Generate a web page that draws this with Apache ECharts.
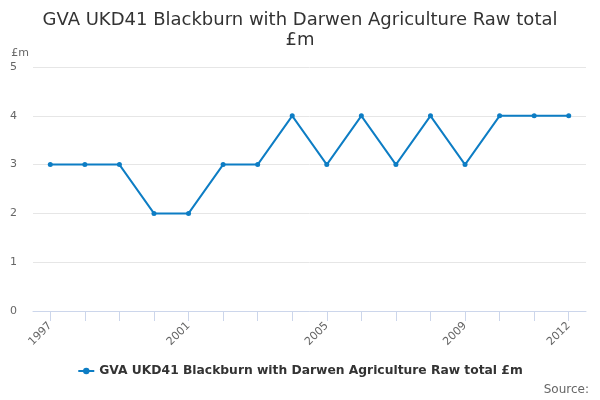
<!DOCTYPE html>
<html><head><meta charset="utf-8">
<script src="https://cdn.jsdelivr.net/npm/echarts@6/dist/echarts.min.js"></script>
<style>html,body{margin:0;padding:0;background:#fff}#c{width:600px;height:400px}</style>
</head><body><div id="c"></div>
<script>
var years = ['1997','1998','1999','2000','2001','2002','2003','2004','2005','2006','2007','2008','2009','2010','2011','2012'];
var values = [3,3,3,2,2,3,3,4,3,4,3,4,3,4,4,4];
var yTicks = [0,1,2,3,4,5];
var seriesName = 'GVA UKD41 Blackburn with Darwen Agriculture Raw total £m';
var font = '"DejaVu Sans", sans-serif';
var chart = echarts.init(document.getElementById('c'));
chart.setOption({
  animation: false,
  textStyle: {fontFamily: font},
  title: {
    text: 'GVA UKD41 Blackburn with Darwen Agriculture Raw total\n£m',
    left: 'center', top: 5,
    textStyle: {fontFamily: font, fontSize: 18, fontWeight: 'normal', color: '#333', lineHeight: 20}
  },
  graphic: [{
    type: 'text', right: 11, top: 384,
    style: {text: 'Source:', fontFamily: font, fontSize: 12, fill: '#666'}
  }],
  legend: {
    bottom: 18, left: 'center',
    itemWidth: 16, itemHeight: 8,
    textStyle: {fontFamily: font, fontSize: 12.3, fontWeight: 'bold', color: '#333'},
    data: [seriesName]
  },
  grid: {left: 33, right: 14, top: 67, bottom: 89},
  xAxis: {
    type: 'category', data: years, boundaryGap: true,
    axisLine: {show: true, lineStyle: {color: '#ccd6eb'}},
    axisTick: {show: true, alignWithLabel: true, interval: 0, length: 10, lineStyle: {color: '#ccd6eb', width: 1}},
    axisLabel: {
      rotate: 45, color: '#666', fontSize: 11, fontFamily: font, margin: 13,
      interval: function (i) { return i % 4 === 0 || i === years.length - 1; }
    }
  },
  yAxis: {
    type: 'value', min: yTicks[0], max: yTicks[yTicks.length - 1], interval: 1,
    name: '£m', nameLocation: 'end', nameGap: 8,
    nameTextStyle: {color: '#666', fontSize: 11, align: 'right', padding: [0, 4, 0, 0]},
    axisLabel: {color: '#666', fontSize: 11, margin: 16},
    splitLine: {lineStyle: {color: '#e6e6e6'}},
    axisLine: {show: false}, axisTick: {show: false}
  },
  series: [{
    name: seriesName, type: 'line', data: values,
    color: '#0d7dc4',
    lineStyle: {width: 2, color: '#0d7dc4'},
    symbol: 'circle', symbolSize: 5,
    itemStyle: {color: '#0d7dc4'}
  }]
});
</script></body></html>
